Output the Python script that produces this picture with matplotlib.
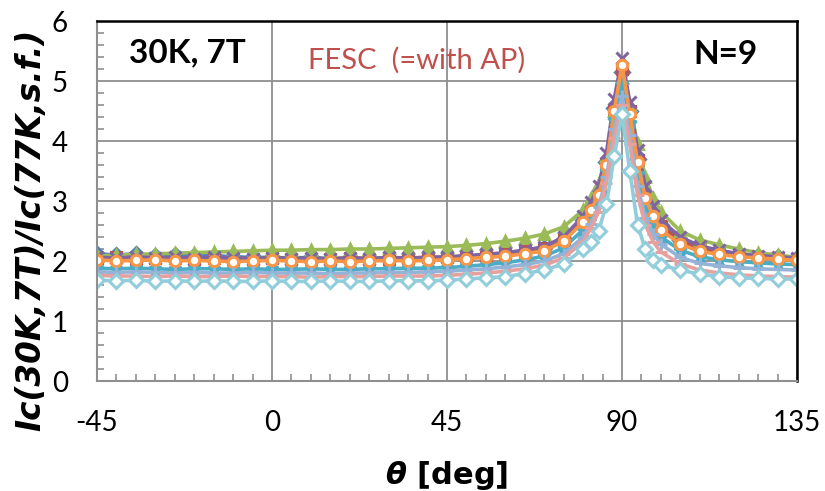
import matplotlib
matplotlib.use('Agg')
import matplotlib.pyplot as plt
from matplotlib.ticker import MultipleLocator

plt.rcParams['axes.unicode_minus'] = False

# angle grid [deg]
theta = [-45, -40, -35, -30, -25, -20, -15, -10, -5, 0,
         5, 10, 15, 20, 25, 30, 35, 40, 45,
         50, 55, 60, 65, 70, 75, 80,
         82, 84, 86, 88, 90, 92, 94, 96, 98, 100,
         105, 110, 115, 120, 125, 130, 135]

s1 = [2.12, 2.10, 2.12, 2.09, 2.10, 2.08, 2.09, 2.07, 2.06, 2.06,
      2.05, 2.06, 2.04, 2.05, 2.04, 2.05, 2.04, 2.05, 2.06,
      2.07, 2.09, 2.12, 2.16, 2.22, 2.37, 2.68,
      2.90, 3.15, 3.65, 4.55, 5.15, 4.50, 3.70, 3.12, 2.82, 2.60,
      2.35, 2.22, 2.15, 2.10, 2.08, 2.06, 2.05]
s2 = [2.05, 2.06, 2.04, 2.05, 2.05, 2.04, 2.05, 2.04, 2.04, 2.05,
      2.04, 2.03, 2.04, 2.05, 2.04, 2.04, 2.05, 2.06, 2.06,
      2.08, 2.10, 2.13, 2.17, 2.22, 2.36, 2.66,
      2.88, 3.12, 3.62, 4.52, 5.20, 4.50, 3.68, 3.10, 2.80, 2.58,
      2.33, 2.20, 2.14, 2.10, 2.07, 2.05, 2.04]
s3 = [2.08, 2.10, 2.11, 2.12, 2.13, 2.14, 2.15, 2.16, 2.17, 2.18,
      2.18, 2.19, 2.19, 2.20, 2.20, 2.21, 2.22, 2.23, 2.24,
      2.26, 2.29, 2.33, 2.38, 2.45, 2.57, 2.85,
      3.05, 3.30, 3.75, 4.50, 5.05, 4.60, 3.95, 3.40, 3.05, 2.82,
      2.50, 2.35, 2.27, 2.20, 2.14, 2.10, 2.06]
s4 = [2.06, 2.05, 2.07, 2.05, 2.06, 2.04, 2.06, 2.05, 2.04, 2.05,
      2.04, 2.05, 2.03, 2.05, 2.04, 2.06, 2.05, 2.06, 2.07,
      2.09, 2.11, 2.14, 2.18, 2.24, 2.40, 2.75,
      2.98, 3.25, 3.80, 4.70, 5.38, 4.65, 3.85, 3.25, 2.92, 2.68,
      2.40, 2.25, 2.18, 2.12, 2.09, 2.07, 2.05]
s5 = [1.88, 1.87, 1.88, 1.87, 1.86, 1.87, 1.87, 1.86, 1.87, 1.86,
      1.86, 1.87, 1.86, 1.86, 1.87, 1.87, 1.88, 1.88, 1.89,
      1.91, 1.94, 1.97, 2.02, 2.08, 2.22, 2.52,
      2.75, 3.00, 3.50, 4.35, 4.95, 4.30, 3.45, 2.90, 2.60, 2.40,
      2.18, 2.07, 2.02, 1.99, 1.97, 1.95, 1.94]
s6 = [2.02, 2.00, 2.01, 2.02, 2.00, 2.01, 2.00, 1.99, 2.00, 2.01,
      2.00, 1.99, 2.00, 1.99, 2.00, 2.01, 2.00, 2.01, 2.02,
      2.04, 2.06, 2.08, 2.12, 2.17, 2.33, 2.65,
      2.85, 3.10, 3.60, 4.50, 5.27, 4.45, 3.65, 3.05, 2.75, 2.52,
      2.28, 2.16, 2.11, 2.07, 2.05, 2.03, 2.01]
s7 = [1.82, 1.81, 1.82, 1.81, 1.80, 1.81, 1.80, 1.80, 1.81, 1.80,
      1.80, 1.80, 1.79, 1.80, 1.80, 1.81, 1.81, 1.82, 1.83,
      1.85, 1.87, 1.90, 1.94, 2.00, 2.12, 2.40,
      2.62, 2.90, 3.40, 4.20, 4.75, 4.10, 3.25, 2.72, 2.45, 2.28,
      2.06, 1.96, 1.92, 1.89, 1.87, 1.86, 1.85]
s8 = [1.76, 1.75, 1.75, 1.74, 1.75, 1.74, 1.74, 1.75, 1.74, 1.74,
      1.74, 1.73, 1.74, 1.74, 1.74, 1.75, 1.75, 1.75, 1.76,
      1.78, 1.80, 1.83, 1.87, 1.93, 2.05, 2.32,
      2.55, 2.82, 3.30, 4.05, 4.60, 3.95, 3.10, 2.60, 2.32, 2.15,
      1.95, 1.85, 1.80, 1.77, 1.75, 1.74, 1.73]
s9 = [1.68, 1.67, 1.68, 1.66, 1.67, 1.66, 1.67, 1.66, 1.66, 1.67,
      1.66, 1.66, 1.67, 1.66, 1.66, 1.67, 1.67, 1.67, 1.68,
      1.70, 1.72, 1.74, 1.79, 1.85, 1.95, 2.20,
      2.32, 2.50, 2.95, 3.75, 4.45, 3.50, 2.60, 2.20, 2.02, 1.93,
      1.85, 1.78, 1.74, 1.72, 1.71, 1.70, 1.70]

series = [s1, s2, s3, s4, s5, s6, s7, s8, s9]
colors = ['#4F81BD', '#C0504D', '#9BBB59', '#8064A2', '#4BACC6',
          '#F79646', '#95B3D7', '#E6A19F', '#92CDDC']
markers = ['D', 's', '^', 'x', '*', 'o', '+', '_', 'D']

fig = plt.figure(figsize=(8.25, 4.91), dpi=100)
ax = fig.add_axes([97/825, 1-381/491, 700/825, 360/491])

for ys, c, m in zip(series, colors, markers):
    open_marker = m in ('o', 'D')
    size = 9 if m in ('x', '+', '_', '*') else 7.5
    ax.plot(theta, ys, color=c, lw=2.6, marker=m, ms=size, mew=2.2,
            mfc='white' if open_marker else c, mec=c)

ax.set_xlim(-45, 135)
ax.set_ylim(0, 6)
ax.set_xticks([-45, 0, 45, 90, 135])
ax.set_yticks(range(0, 7))
ax.xaxis.set_minor_locator(MultipleLocator(5))
ax.yaxis.set_minor_locator(MultipleLocator(0.2))
ax.grid(True, which='major', color='#8F8F8F', lw=1.3)
ax.set_axisbelow(True)

ax.tick_params(which='major', length=0, labelsize=20)
ax.tick_params(axis='y', which='major', pad=21)
ax.tick_params(axis='x', which='major', pad=21)
ax.tick_params(which='minor', direction='in', length=5, width=1.2, color='#8F8F8F')
for lab in ax.get_xticklabels() + ax.get_yticklabels():
    lab.set_family('Lato')

for side in ('left', 'bottom'):
    ax.spines[side].set_color('#8F8F8F')
    ax.spines[side].set_linewidth(1.5)
for side in ('top', 'right'):
    ax.spines[side].set_color('black')
    ax.spines[side].set_linewidth(1.8)

fig.text(31/825, 1-230/491, 'Ic(30K,7T)/Ic(77K,s.f.)', rotation=90,
         ha='center', va='center', fontsize=23.5, fontweight='bold', style='italic',
         family='DejaVu Sans')
fig.text(447/825, 15/491, r'$\boldsymbol{\theta}$ [deg]', ha='center', va='center',
         fontsize=22, fontweight='bold', family='DejaVu Sans')

fig.text(187/825, 1-53/491, '30K, 7T', ha='center', va='center',
         fontsize=24, fontweight='bold', family='Lato')
fig.text(417/825, 1-60/491, 'FESC  (=with AP)', ha='center', va='center',
         fontsize=21, color='#C0504D', family='Lato')
fig.text(726/825, 1-55/491, 'N=9', ha='center', va='center',
         fontsize=24, fontweight='bold', family='Lato')

fig.savefig('out.png', dpi=100)
